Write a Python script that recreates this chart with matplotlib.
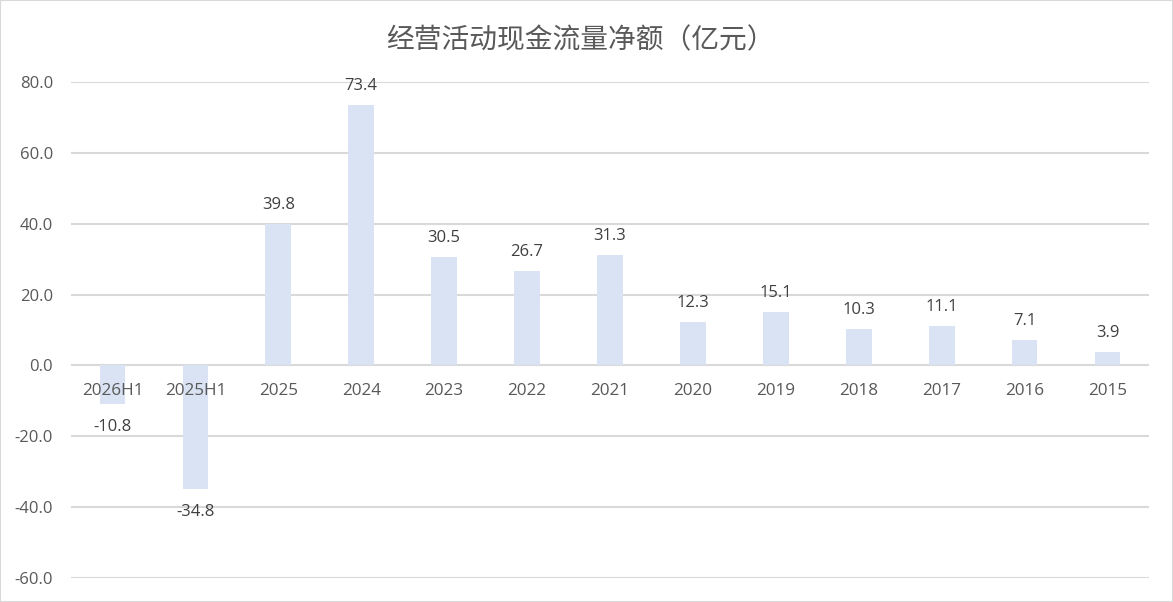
import matplotlib
matplotlib.use("Agg")
import matplotlib.pyplot as plt
from matplotlib.patches import Rectangle

plt.rcParams['font.family'] = ['Noto Sans CJK SC', 'DejaVu Sans']

categories = ["2026H1", "2025H1", "2025", "2024", "2023", "2022", "2021",
              "2020", "2019", "2018", "2017", "2016", "2015"]
values = [-10.8, -34.8, 39.8, 73.4, 30.5, 26.7, 31.3, 12.3, 15.1, 10.3, 11.1, 7.1, 3.9]
yticks = [-60, -40, -20, 0, 20, 40, 60, 80]
title = "经营活动现金流量净额（亿元）"

txt = "#595959"
fig = plt.figure(figsize=(11.73, 6.02), dpi=100)
fig.patches.append(Rectangle((0, 0), 1, 1, transform=fig.transFigure,
                             fill=False, edgecolor="#D9D9D9", linewidth=1.5))
ax = fig.add_axes([71/1173, 1-578/602, (1149-71)/1173, (578-82)/602])

x = list(range(len(categories)))
ax.bar(x, values, width=0.31, color="#DAE3F3", zorder=2)
ax.set_xlim(-0.5, len(categories)-0.5)
ax.set_ylim(-60, 80)
ax.set_yticks(yticks)
ax.set_yticklabels([f"{v:.1f}" for v in yticks], fontsize=12, color=txt,
                   family=['Open Sans', 'DejaVu Sans'])
ax.tick_params(axis='y', length=0, pad=13)
ax.set_xticks([])
ax.grid(axis='y', color="#D9D9D9", linewidth=1.5, zorder=0)
for s in ax.spines.values():
    s.set_visible(False)

for xi, c in zip(x, categories):
    ax.annotate(c, (xi, 0), xytext=(0, -26), textcoords='offset pixels',
                ha='center', va='center', fontsize=12.3, color=txt,
                family=['Open Sans', 'DejaVu Sans'], zorder=3)

for xi, v in zip(x, values):
    off = 19 if v >= 0 else -23
    ax.annotate(f"{v:.1f}", (xi, v), xytext=(0, off), textcoords='offset pixels',
                ha='center', va='center', fontsize=12, color="#404040",
                family=['Open Sans', 'DejaVu Sans'], zorder=3)

fig.text(580/1173, 1-40/602, title, ha='center', va='center', fontsize=20,
         color=txt, fontweight='light', family=['Noto Sans CJK SC', 'DejaVu Sans'])

fig.savefig("out.png", dpi=100)
